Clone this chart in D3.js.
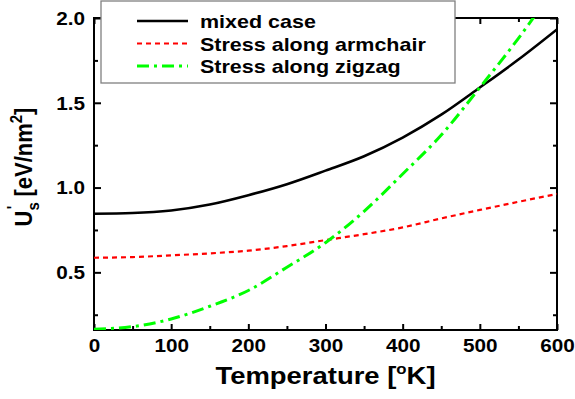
<!DOCTYPE html>
<html>
<head>
<meta charset="utf-8">
<script src="https://cdn.jsdelivr.net/npm/d3@7"></script>
<style>
  body { margin: 0; background: #fff; }
  svg text { font-family: "Liberation Sans", Arial, sans-serif; font-weight: bold; fill: #000; }
</style>
</head>
<body>
<svg id="chart" width="575" height="399"></svg>
<script>
// values
var temps      = [0, 50, 100, 150, 200, 250, 300, 350, 400, 450, 500, 550, 600];
var mixedCase  = [0.846, 0.850, 0.865, 0.900, 0.955, 1.020, 1.100, 1.185, 1.295, 1.430, 1.590, 1.755, 1.933];
var armchair   = [0.586, 0.590, 0.600, 0.612, 0.628, 0.655, 0.690, 0.725, 0.765, 0.818, 0.868, 0.916, 0.962];
var zigzag     = [0.165, 0.180, 0.225, 0.300, 0.393, 0.530, 0.675, 0.860, 1.080, 1.310, 1.590, 1.880, 2.200];
var xTicks     = [0, 100, 200, 300, 400, 500, 600];
var xMinor     = [50, 150, 250, 350, 450, 550];
var yTicks     = [0.5, 1.0, 1.5, 2.0];
var yMinor     = [0.25, 0.75, 1.25, 1.75];
var seriesNames = ["mixed case", "Stress along armchair", "Stress along zigzag"];

var series = [
  {name: seriesNames[0], values: mixedCase, color: "#000000", width: 2.6, dash: null},
  {name: seriesNames[1], values: armchair,  color: "#ff0000", width: 2.2, dash: "5,4"},
  {name: seriesNames[2], values: zigzag,    color: "#00ff00", width: 3,   dash: "12,5,3,5"}
];

var stretch = 1.12;   // the reference text is a bit wide
var x = d3.scaleLinear().domain([0, 600]).range([94, 557]);
var y = d3.scaleLinear().domain([0.16, 2.0]).range([330, 18]);

var svg = d3.select("#chart");

svg.append("defs").append("clipPath").attr("id", "clip")
  .append("rect")
  .attr("x", x(0)).attr("y", y(2.0))
  .attr("width", x(600) - x(0)).attr("height", y(0.16) - y(2.0));

// axes, ticks pointing inward
function drawAxis(axis, tx, ty) {
  var g = svg.append("g").attr("transform", "translate(" + tx + "," + ty + ")").call(axis);
  g.select(".domain").remove();
  g.selectAll(".tick line").attr("stroke", "#000").attr("stroke-width", 2);
  return g;
}

var gx = drawAxis(d3.axisBottom(x).tickValues(xTicks).tickSize(-6).tickFormat(d3.format("d")), 0, y(0.16));
gx.selectAll("text")
  .attr("y", 8.5).attr("dy", "0.71em")
  .attr("font-size", 18.5)
  .attr("transform", "scale(" + stretch + ",1)");
drawAxis(d3.axisBottom(x).tickValues(xMinor).tickSize(-4).tickFormat(""), 0, y(0.16));
drawAxis(d3.axisTop(x).tickValues(xTicks).tickSize(-6).tickFormat(""), 0, y(2.0));
drawAxis(d3.axisTop(x).tickValues(xMinor).tickSize(-4).tickFormat(""), 0, y(2.0));

var gy = drawAxis(d3.axisLeft(y).tickValues(yTicks).tickSize(-7).tickFormat(d3.format(".1f")), x(0), 0);
gy.selectAll("text")
  .attr("x", -9 / stretch).attr("dy", "0.34em")
  .attr("font-size", 18.5)
  .attr("transform", "scale(" + stretch + ",1)");
drawAxis(d3.axisLeft(y).tickValues(yMinor).tickSize(-4).tickFormat(""), x(0), 0);
drawAxis(d3.axisRight(y).tickValues(yTicks).tickSize(-7).tickFormat(""), x(600), 0);
drawAxis(d3.axisRight(y).tickValues(yMinor).tickSize(-4).tickFormat(""), x(600), 0);

// frame
svg.append("rect")
  .attr("x", x(0)).attr("y", y(2.0))
  .attr("width", x(600) - x(0)).attr("height", y(0.16) - y(2.0))
  .attr("fill", "none").attr("stroke", "#000").attr("stroke-width", 2);

// curves
var line = d3.line()
  .x(function(d, i) { return x(temps[i]); })
  .y(function(d) { return y(d); })
  .curve(d3.curveMonotoneX);

svg.append("g").attr("clip-path", "url(#clip)")
  .selectAll("path")
  .data(series)
  .enter().append("path")
  .attr("d", function(d) { return line(d.values); })
  .attr("fill", "none")
  .attr("stroke", function(d) { return d.color; })
  .attr("stroke-width", function(d) { return d.width; })
  .attr("stroke-dasharray", function(d) { return d.dash; });

// legend
var legend = svg.append("g");
legend.append("rect")
  .attr("x", 101).attr("y", 1).attr("width", 354).attr("height", 82)
  .attr("fill", "#fff").attr("stroke", "#808080").attr("stroke-width", 1.3);

var items = legend.selectAll(".item")
  .data(series)
  .enter().append("g")
  .attr("transform", function(d, i) { return "translate(0," + (21 + i * 22.5) + ")"; });
items.append("line")
  .attr("x1", 137).attr("x2", 188)
  .attr("stroke", function(d) { return d.color; })
  .attr("stroke-width", function(d) { return d.width; })
  .attr("stroke-dasharray", function(d) { return d.dash; });
items.append("g")
  .attr("transform", "translate(200,7) scale(" + stretch + ",1)")
  .append("text")
  .attr("font-size", 19.2)
  .text(function(d) { return d.name; });

// x label
var xl = svg.append("g")
  .attr("transform", "translate(" + (x(0) + x(600)) / 2 + ",384) scale(" + stretch + ",1)")
  .append("text").attr("text-anchor", "middle").attr("font-size", 24.5);
xl.append("tspan").text("Temperature [");
xl.append("tspan").attr("font-size", 15).attr("dy", -10).text("o");
xl.append("tspan").attr("dy", 10).text("K]");

// y label
var yl = svg.append("g")
  .attr("transform", "translate(32,167) rotate(-90) scale(1," + stretch + ")")
  .append("text").attr("text-anchor", "middle").attr("font-size", 22);
yl.append("tspan").text("U");
yl.append("tspan").attr("font-size", 15).attr("dy", 6).text("s");
yl.append("tspan").attr("font-size", 15).attr("dx", -7).attr("dy", -18).text("'");
yl.append("tspan").attr("dx", 3).attr("dy", 12).text(" [eV/nm");
yl.append("tspan").attr("font-size", 15).attr("dy", -9).text("2");
yl.append("tspan").attr("dy", 9).text("]");
</script>
</body>
</html>
